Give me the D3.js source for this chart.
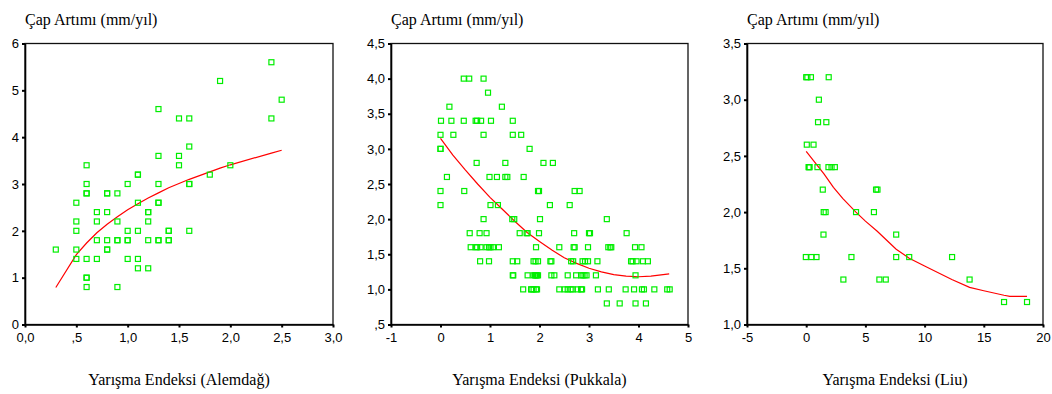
<!DOCTYPE html>
<html>
<head>
<meta charset="utf-8">
<script src="https://cdn.jsdelivr.net/npm/d3@7"></script>
<style>
  body { margin: 0; background: #fff; }
  .tick text { font-family: "Liberation Sans", Arial, sans-serif; font-size: 13px; fill: #000; }
  .ttl { font-family: "Liberation Serif", "Times New Roman", serif; font-size: 16px; fill: #000; }
</style>
</head>
<body>
<svg id="chart" width="1052" height="394"></svg>
<script>
// shared texts
const yTitle = "Çap Artımı (mm/yıl)";
const xTitles = ["Yarışma Endeksi (Alemdağ)", "Yarışma Endeksi (Pukkala)", "Yarışma Endeksi (Liu)"];

// --- Alemdağ ---
const alemdagX = [0.3,
  0.5,0.5,0.5,0.5,0.5,
  0.6,0.6,0.6,0.6,0.6,0.6,0.6,0.6,
  0.7,0.7,0.7,0.7,
  0.8,0.8,0.8,0.8,0.8,0.8,
  0.9,0.9,0.9,0.9,0.9,
  1.0,1.0,1.0,1.0,1.0,
  1.1,1.1,1.1,1.1,1.1,1.1,
  1.2,1.2,1.2,1.2,1.2,
  1.3,1.3,1.3,1.3,1.3,1.3,1.3,
  1.4,1.4,1.4,1.4,
  1.5,1.5,1.5,
  1.6,1.6,1.6,1.6,1.6,
  1.8,1.9,2.0,2.4,2.4,2.5];
const alemdagY = [1.6,
  2.6,2.2,2.0,1.6,1.4,
  3.4,3.0,2.8,2.8,1.4,1.0,1.0,0.8,
  2.4,2.2,1.8,1.4,
  2.8,2.8,2.4,1.8,1.6,1.6,
  2.8,2.2,1.8,1.8,0.8,
  3.0,2.0,1.8,1.8,1.4,
  3.2,3.2,2.6,2.0,1.4,1.2,
  2.4,2.4,2.2,1.8,1.2,
  4.6,3.6,3.0,2.6,2.6,1.8,1.8,
  2.0,2.0,1.8,1.8,
  4.4,3.6,3.4,
  4.4,3.8,3.0,3.0,2.0,
  3.2,5.2,3.4,5.6,4.4,4.8];
const alemdagFitX = [0.3,0.5,0.6,0.7,0.8,0.9,1.0,1.1,1.2,1.3,1.4,1.5,1.6,1.8,1.9,2.0,2.4,2.5];
const alemdagFitY = [0.79,1.49,1.74,1.96,2.14,2.30,2.45,2.58,2.70,2.81,2.92,3.01,3.10,3.26,3.34,3.41,3.66,3.72];
const alemdagXTicks = [0, 0.5, 1, 1.5, 2, 2.5, 3];
const alemdagXLabels = ["0,0", ",5", "1,0", "1,5", "2,0", "2,5", "3,0"];
const alemdagYTicks = [0, 1, 2, 3, 4, 5, 6];
const alemdagYLabels = ["0", "1", "2", "3", "4", "5", "6"];

// --- Pukkala ---
const pukkalaX = [
  0.47,0.58,0.87,
  0.96,
  0.18,1.24,
  0.01,0.22,0.47,0.71,0.74,0.82,1.02,1.46,
  0.0,0.26,0.87,1.46,1.63,
  0.0,0.0,1.8,
  0.73,1.31,2.08,2.27,
  0.13,0.99,1.14,1.31,1.35,1.68,
  0.0,0.48,1.97,1.99,2.71,2.81,
  0.0,1.01,1.16,2.21,2.61,
  0.87,1.45,1.49,2.01,3.36,
  0.59,0.79,0.93,1.60,1.74,1.76,1.99,2.70,3.0,3.02,3.76,
  0.61,0.71,0.74,0.81,0.93,0.98,1.01,1.06,1.18,1.93,2.40,2.69,2.71,2.98,3.39,3.43,3.45,3.93,4.06,
  0.80,0.98,1.46,1.55,1.88,1.92,1.97,2.22,2.24,2.64,2.68,2.87,2.92,2.98,3.17,3.85,3.88,3.96,4.09,4.19,
  1.46,1.47,1.76,1.88,1.91,1.93,1.95,1.97,2.24,2.30,2.57,2.74,2.84,2.87,2.91,2.95,3.14,3.94,
  1.67,1.83,1.84,1.88,1.93,1.95,2.40,2.51,2.57,2.63,2.67,2.77,2.84,2.86,3.18,3.40,3.74,3.91,4.07,4.11,4.32,4.58,4.63,
  3.36,3.62,3.94,4.15];
const pukkalaY = [
  4.0,4.0,4.0,
  3.8,
  3.6,3.6,
  3.4,3.4,3.4,3.4,3.4,3.4,3.4,3.4,
  3.2,3.2,3.2,3.2,3.2,
  3.0,3.0,3.0,
  2.8,2.8,2.8,2.8,
  2.6,2.6,2.6,2.6,2.6,2.6,
  2.4,2.4,2.4,2.4,2.4,2.4,
  2.2,2.2,2.2,2.2,2.2,
  2.0,2.0,2.0,2.0,2.0,
  1.8,1.8,1.8,1.8,1.8,1.8,1.8,1.8,1.8,1.8,1.8,
  1.6,1.6,1.6,1.6,1.6,1.6,1.6,1.6,1.6,1.6,1.6,1.6,1.6,1.6,1.6,1.6,1.6,1.6,1.6,
  1.4,1.4,1.4,1.4,1.4,1.4,1.4,1.4,1.4,1.4,1.4,1.4,1.4,1.4,1.4,1.4,1.4,1.4,1.4,1.4,
  1.2,1.2,1.2,1.2,1.2,1.2,1.2,1.2,1.2,1.2,1.2,1.2,1.2,1.2,1.2,1.2,1.2,1.2,
  1.0,1.0,1.0,1.0,1.0,1.0,1.0,1.0,1.0,1.0,1.0,1.0,1.0,1.0,1.0,1.0,1.0,1.0,1.0,1.0,1.0,1.0,1.0,
  0.8,0.8,0.8,0.8];
const pukkalaFitX = [0,0.25,0.5,0.75,1.0,1.25,1.5,1.75,2.0,2.25,2.5,2.75,3.0,3.25,3.5,3.75,4.0,4.25,4.62];
const pukkalaFitY = [3.15,2.91,2.70,2.50,2.31,2.14,1.97,1.81,1.68,1.56,1.45,1.37,1.30,1.25,1.21,1.19,1.18,1.19,1.22];
const pukkalaXTicks = [-1, 0, 1, 2, 3, 4, 5];
const pukkalaXLabels = ["-1", "0", "1", "2", "3", "4", "5"];
const pukkalaYTicks = [0.5, 1, 1.5, 2, 2.5, 3, 3.5, 4, 4.5];
const pukkalaYLabels = [",5", "1,0", "1,5", "2,0", "2,5", "3,0", "3,5", "4,0", "4,5"];

// --- Liu ---
const liuX = [
  0.0,0.1,0.4,1.9,
  1.07,
  1.0,1.7,
  0.05,0.62,
  0.2,0.25,0.28,0.95,1.88,2.14,2.42,
  1.4,5.9,6.02,
  1.48,1.64,4.21,5.72,
  1.46,7.6,
  -0.03,0.44,0.87,3.82,7.6,8.7,12.32,
  3.14,6.18,6.72,13.8,
  16.71,18.65];
const liuY = [
  3.2,3.2,3.2,3.2,
  3.0,
  2.8,2.8,
  2.6,2.6,
  2.4,2.4,2.4,2.4,2.4,2.4,2.4,
  2.2,2.2,2.2,
  2.0,2.0,2.0,2.0,
  1.8,1.8,
  1.6,1.6,1.6,1.6,1.6,1.6,1.6,
  1.4,1.4,1.4,1.4,
  1.2,1.2];
const liuFitX = [0,0.9,1.5,2.3,3.1,4.2,5.0,6.0,7.0,7.6,8.7,10.0,12.3,13.8,15.0,16.7,17.2,18.65];
const liuFitY = [2.54,2.42,2.34,2.22,2.12,2.0,1.92,1.83,1.73,1.67,1.59,1.52,1.40,1.33,1.30,1.26,1.25,1.25];
const liuXTicks = [-5, 0, 5, 10, 15, 20];
const liuXLabels = ["-5", "0", "5", "10", "15", "20"];
const liuYTicks = [1, 1.5, 2, 2.5, 3, 3.5];
const liuYLabels = ["1,0", "1,5", "2,0", "2,5", "3,0", "3,5"];

const panels = [
  { left: 25, right: 333, xs: alemdagX, ys: alemdagY, fx: alemdagFitX, fy: alemdagFitY,
    xt: alemdagXTicks, xl: alemdagXLabels, yt: alemdagYTicks, yl: alemdagYLabels, title: xTitles[0] },
  { left: 391, right: 688, xs: pukkalaX, ys: pukkalaY, fx: pukkalaFitX, fy: pukkalaFitY,
    xt: pukkalaXTicks, xl: pukkalaXLabels, yt: pukkalaYTicks, yl: pukkalaYLabels, title: xTitles[1] },
  { left: 747, right: 1043, xs: liuX, ys: liuY, fx: liuFitX, fy: liuFitY,
    xt: liuXTicks, xl: liuXLabels, yt: liuYTicks, yl: liuYLabels, title: xTitles[2] }
];

const plotTop = 43.5, plotBottom = 324.5;
const svg = d3.select("#chart");

panels.forEach(p => {
  const x = d3.scaleLinear().domain(d3.extent(p.xt)).range([p.left, p.right]);
  const y = d3.scaleLinear().domain(d3.extent(p.yt)).range([plotBottom, plotTop]);
  const g = svg.append("g");

  // frame
  g.append("rect")
    .attr("x", p.left).attr("y", plotTop)
    .attr("width", p.right - p.left).attr("height", plotBottom - plotTop)
    .attr("fill", "none").attr("stroke", "#111").attr("stroke-width", 1.3);

  const ax = g.append("g")
    .attr("transform", "translate(0," + plotBottom + ")")
    .call(d3.axisBottom(x).tickValues(p.xt).tickFormat((d, i) => p.xl[i])
      .tickSizeInner(3).tickSizeOuter(0).tickPadding(5));
  const ay = g.append("g")
    .attr("transform", "translate(" + p.left + ",0)")
    .call(d3.axisLeft(y).tickValues(p.yt).tickFormat((d, i) => p.yl[i])
      .tickSizeInner(3).tickSizeOuter(0).tickPadding(3));
  [ax, ay].forEach(a => {
    a.select(".domain").attr("stroke", "#000").attr("stroke-width", 1.6);
    a.selectAll(".tick line").attr("stroke", "#000").attr("stroke-width", 2);
  });

  // fitted curve
  const line = d3.line().x(d => x(d[0])).y(d => y(d[1]));
  g.append("path")
    .datum(d3.zip(p.fx, p.fy))
    .attr("d", line)
    .attr("fill", "none").attr("stroke", "#ff0000").attr("stroke-width", 1.2);

  // points
  g.selectAll("rect.pt")
    .data(d3.zip(p.xs, p.ys))
    .enter().append("rect")
    .attr("class", "pt")
    .attr("x", d => x(d[0]) - 2.5).attr("y", d => y(d[1]) - 2.5)
    .attr("width", 5).attr("height", 5)
    .attr("fill", "none").attr("stroke", "#00ee00").attr("stroke-width", 1.2);

  // titles
  g.append("text").attr("class", "ttl")
    .attr("x", p.left).attr("y", 25)
    .text(yTitle);
  g.append("text").attr("class", "ttl")
    .attr("x", (p.left + p.right) / 2).attr("y", 385)
    .attr("text-anchor", "middle")
    .text(p.title);
});
</script>
</body>
</html>
